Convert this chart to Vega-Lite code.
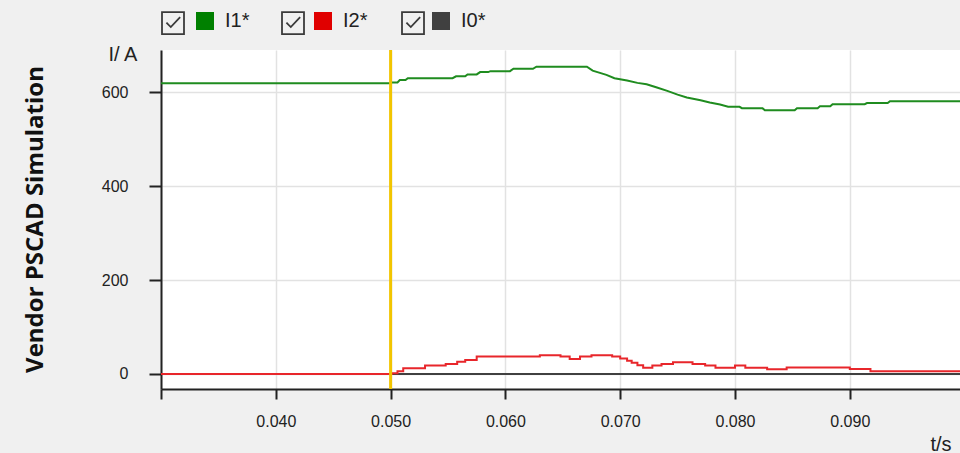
{
  "$schema": "https://vega.github.io/schema/vega-lite/v6.json",
  "width": 799,
  "height": 339,
  "autosize": {"type": "none"},
  "padding": {"left": 161, "top": 50, "right": 0, "bottom": 64},
  "background": "#f0f0f0",
  "view": {"fill": "white", "stroke": null},
  "config": {"font": "Liberation Sans"},
  "title": {"text": "Vendor PSCAD Simulation", "orient": "left", "anchor": "middle", "frame": "group", "font": "Open Sans", "fontSize": 24, "fontWeight": "bold", "color": "#111111", "offset": 53},
  "datasets": {
    "curves": [
      {"s": "I0*", "t": 0.03, "v": 0}, {"s": "I0*", "t": 0.0996, "v": 0},
      {"s": "I2*", "t": 0.0300, "v": 0}, {"s": "I2*", "t": 0.0501, "v": 1.5}, {"s": "I2*", "t": 0.0506, "v": 6}, {"s": "I2*", "t": 0.0511, "v": 12}, {"s": "I2*", "t": 0.0530, "v": 18}, {"s": "I2*", "t": 0.0548, "v": 21}, {"s": "I2*", "t": 0.0558, "v": 26}, {"s": "I2*", "t": 0.0565, "v": 30}, {"s": "I2*", "t": 0.0575, "v": 37}, {"s": "I2*", "t": 0.0630, "v": 40}, {"s": "I2*", "t": 0.0648, "v": 37}, {"s": "I2*", "t": 0.0656, "v": 32}, {"s": "I2*", "t": 0.0665, "v": 37}, {"s": "I2*", "t": 0.0675, "v": 40}, {"s": "I2*", "t": 0.0693, "v": 37}, {"s": "I2*", "t": 0.0700, "v": 33}, {"s": "I2*", "t": 0.0706, "v": 28}, {"s": "I2*", "t": 0.0710, "v": 24}, {"s": "I2*", "t": 0.0715, "v": 18.5}, {"s": "I2*", "t": 0.0720, "v": 13.5}, {"s": "I2*", "t": 0.0728, "v": 18}, {"s": "I2*", "t": 0.0736, "v": 21}, {"s": "I2*", "t": 0.0746, "v": 25}, {"s": "I2*", "t": 0.0763, "v": 21}, {"s": "I2*", "t": 0.0774, "v": 18}, {"s": "I2*", "t": 0.0783, "v": 13.5}, {"s": "I2*", "t": 0.0800, "v": 18}, {"s": "I2*", "t": 0.0809, "v": 13.5}, {"s": "I2*", "t": 0.0828, "v": 10}, {"s": "I2*", "t": 0.0845, "v": 14}, {"s": "I2*", "t": 0.0900, "v": 10.5}, {"s": "I2*", "t": 0.0918, "v": 6}, {"s": "I2*", "t": 0.0996, "v": 6},
      {"s": "I1*", "t": 0.0300, "v": 619}, {"s": "I1*", "t": 0.0500, "v": 619}, {"s": "I1*", "t": 0.0501, "v": 621}, {"s": "I1*", "t": 0.0506, "v": 621}, {"s": "I1*", "t": 0.0508, "v": 626}, {"s": "I1*", "t": 0.0513, "v": 626}, {"s": "I1*", "t": 0.0515, "v": 630}, {"s": "I1*", "t": 0.0554, "v": 630}, {"s": "I1*", "t": 0.0557, "v": 634}, {"s": "I1*", "t": 0.0565, "v": 634}, {"s": "I1*", "t": 0.0567, "v": 638}, {"s": "I1*", "t": 0.0575, "v": 638}, {"s": "I1*", "t": 0.0578, "v": 643}, {"s": "I1*", "t": 0.0585, "v": 643}, {"s": "I1*", "t": 0.0587, "v": 645}, {"s": "I1*", "t": 0.0604, "v": 645}, {"s": "I1*", "t": 0.0607, "v": 650}, {"s": "I1*", "t": 0.0624, "v": 650}, {"s": "I1*", "t": 0.0627, "v": 654.5}, {"s": "I1*", "t": 0.0671, "v": 654.5}, {"s": "I1*", "t": 0.0676, "v": 646}, {"s": "I1*", "t": 0.0688, "v": 637}, {"s": "I1*", "t": 0.0695, "v": 630}, {"s": "I1*", "t": 0.0706, "v": 625}, {"s": "I1*", "t": 0.0715, "v": 620}, {"s": "I1*", "t": 0.0723, "v": 617}, {"s": "I1*", "t": 0.0732, "v": 610}, {"s": "I1*", "t": 0.0741, "v": 603}, {"s": "I1*", "t": 0.0750, "v": 595}, {"s": "I1*", "t": 0.0758, "v": 589}, {"s": "I1*", "t": 0.0770, "v": 583}, {"s": "I1*", "t": 0.0778, "v": 578}, {"s": "I1*", "t": 0.0787, "v": 574}, {"s": "I1*", "t": 0.0794, "v": 569}, {"s": "I1*", "t": 0.0804, "v": 569}, {"s": "I1*", "t": 0.0806, "v": 566}, {"s": "I1*", "t": 0.0824, "v": 566}, {"s": "I1*", "t": 0.0826, "v": 561.5}, {"s": "I1*", "t": 0.0852, "v": 561.5}, {"s": "I1*", "t": 0.0854, "v": 566}, {"s": "I1*", "t": 0.0872, "v": 566}, {"s": "I1*", "t": 0.0874, "v": 570}, {"s": "I1*", "t": 0.0883, "v": 570}, {"s": "I1*", "t": 0.0885, "v": 574.5}, {"s": "I1*", "t": 0.0913, "v": 574.5}, {"s": "I1*", "t": 0.0915, "v": 577}, {"s": "I1*", "t": 0.0933, "v": 577}, {"s": "I1*", "t": 0.0935, "v": 581}, {"s": "I1*", "t": 0.0996, "v": 581}
    ],
    "marker": [{"t": 0.05}],
    "legendrows": [
      {"series": "I1*", "box": "b1"},
      {"series": "I2*", "box": "b2"},
      {"series": "I0*", "box": "b3"}
    ]
  },
  "layer": [
    {
      "data": {"name": "curves"},
      "transform": [{"filter": "datum.s === 'I0*'"}],
      "mark": {"type": "line", "color": "#404040", "strokeWidth": 2},
      "encoding": {
        "x": {"field": "t", "type": "quantitative", "scale": {"domain": [0.03, 0.0996], "nice": false, "zero": false},
          "axis": {"values": [0.03, 0.04, 0.05, 0.06, 0.07, 0.08, 0.09], "labelExpr": "datum.value < 0.035 ? '' : format(datum.value, '.3f')",
            "title": "t/s", "titleX": 790, "titleY": 61, "titleAlign": "right", "titleBaseline": "alphabetic",
            "titleFontSize": 20, "titleFontWeight": "normal", "titleColor": "#222222",
            "labelFontSize": 16, "labelColor": "#222222", "labelPadding": 14, "labelFlush": false, "labelOverlap": false,
            "tickSize": 10, "tickWidth": 2, "tickColor": "#222222", "domainColor": "#222222", "domainWidth": 2,
            "grid": true, "gridColor": "#e2e2e2", "gridWidth": 1.5}},
        "y": {"field": "v", "type": "quantitative", "scale": {"domain": [-32, 690], "nice": false, "zero": false},
          "axis": {"values": [0, 200, 400, 600], "title": "I/ A", "titleAngle": 0, "titleX": -53, "titleY": 10, "titleAlign": "left", "titleBaseline": "alphabetic",
            "titleFontSize": 20, "titleFontWeight": "normal", "titleColor": "#222222",
            "labelFontSize": 16, "labelColor": "#222222", "labelPadding": 21, "labelFlush": false, "labelOverlap": false,
            "tickSize": 12, "tickWidth": 2, "tickColor": "#222222", "domainColor": "#222222", "domainWidth": 2,
            "grid": true, "gridColor": "#e2e2e2", "gridWidth": 1.5}}
      }
    },
    {
      "data": {"name": "curves"},
      "transform": [{"filter": "datum.s === 'I2*'"}],
      "mark": {"type": "line", "color": "#e8262b", "strokeWidth": 2, "interpolate": "step-after"},
      "encoding": {
        "x": {"field": "t", "type": "quantitative"},
        "y": {"field": "v", "type": "quantitative"}
      }
    },
    {
      "data": {"name": "curves"},
      "transform": [{"filter": "datum.s === 'I1*'"}],
      "mark": {"type": "line", "color": "#1f8c1f", "strokeWidth": 2},
      "encoding": {
        "x": {"field": "t", "type": "quantitative"},
        "y": {"field": "v", "type": "quantitative"}
      }
    },
    {
      "data": {"name": "marker"},
      "mark": {"type": "rule", "color": "#f2c500", "strokeWidth": 3},
      "encoding": {
        "x": {"field": "t", "type": "quantitative"}
      }
    },
    {
      "data": {"name": "legendrows"},
      "mark": {"type": "square", "opacity": 0},
      "encoding": {
        "fill": {"field": "series", "type": "nominal",
          "scale": {"domain": ["I1*", "I2*", "I0*"], "range": ["#008000", "#e00000", "#404040"]},
          "legend": {"title": null, "orient": "none", "legendX": 34, "legendY": -39, "direction": "horizontal",
            "symbolType": "square", "symbolSize": 324, "symbolStrokeWidth": 0, "symbolOpacity": 1,
            "labelFontSize": 20, "labelColor": "#222222", "labelFont": "Liberation Sans", "labelOffset": 10,
            "columnPadding": 63, "padding": 0}}
      }
    },
    {
      "data": {"name": "legendrows"},
      "mark": {"type": "point", "opacity": 0, "filled": false, "color": "#444444"},
      "encoding": {
        "shape": {"field": "box", "type": "nominal",
          "scale": {"domain": ["b1", "b2", "b3"], "range": ["M-1,-1L1,-1L1,1L-1,1Z M-0.6,-0.05L-0.2,0.35L0.65,-0.55", "M-1,-1L1,-1L1,1L-1,1Z M-0.6,-0.05L-0.2,0.35L0.65,-0.55", "M-1,-1L1,-1L1,1L-1,1Z M-0.6,-0.05L-0.2,0.35L0.65,-0.55"]},
          "legend": {"title": null, "orient": "none", "legendX": 0, "legendY": -39, "direction": "horizontal",
            "symbolSize": 484, "symbolStrokeColor": "#3a3a3a", "symbolStrokeWidth": 1.8, "symbolFillColor": "transparent", "symbolOpacity": 1,
            "labelExpr": "''", "labelOffset": 0, "columnPadding": 90, "padding": 0}}
      }
    }
  ]
}
